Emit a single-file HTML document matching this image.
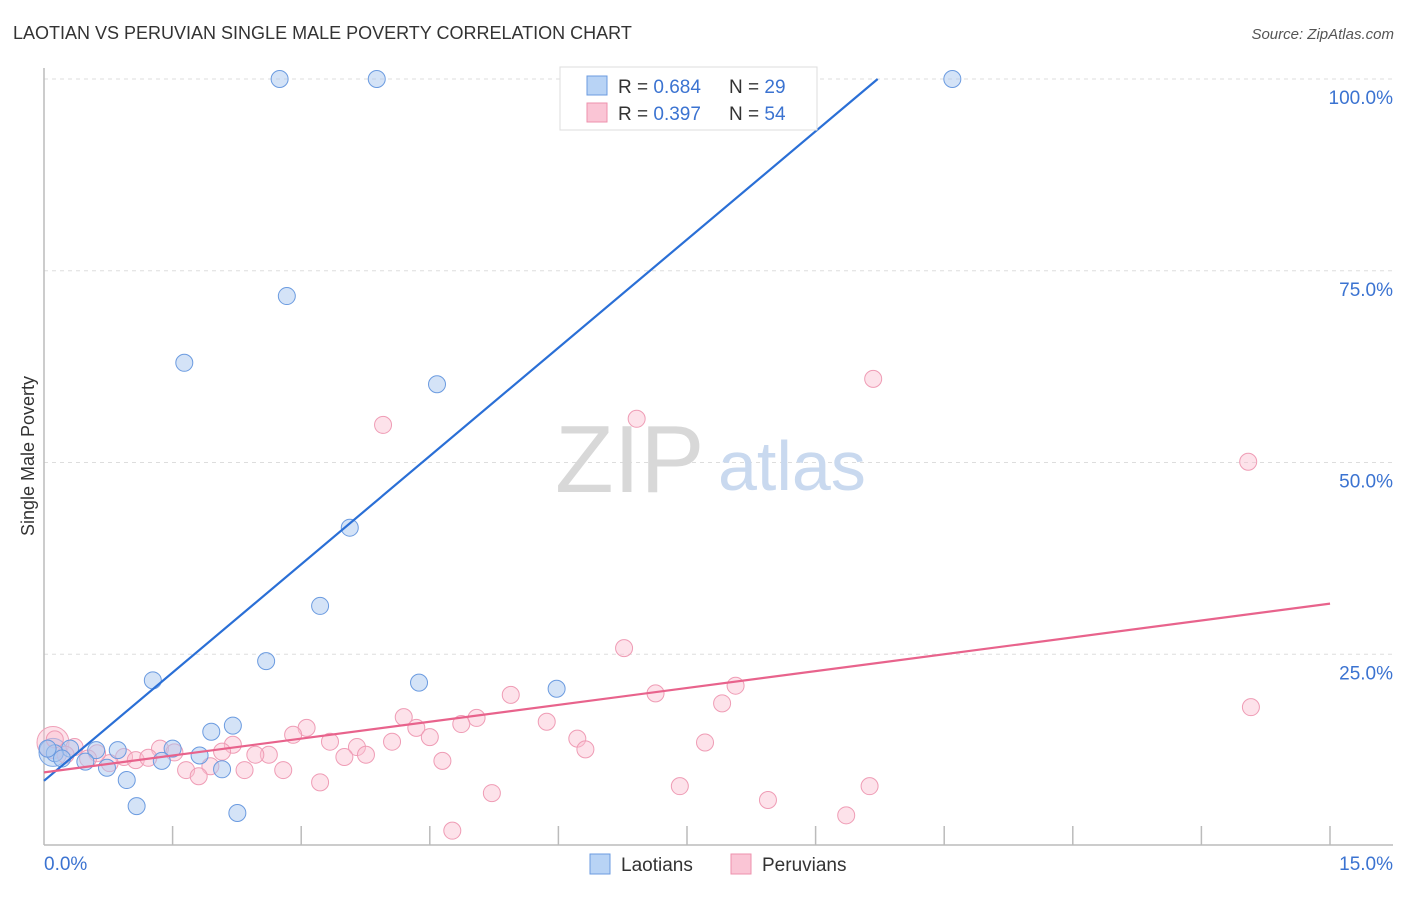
<!DOCTYPE html>
<html><head><meta charset="utf-8"><style>
body{margin:0;background:#fff;font-family:"Liberation Sans",sans-serif;}
svg text{font-family:"Liberation Sans",sans-serif;}
</style></head><body>
<svg width="1406" height="892" viewBox="0 0 1406 892" xmlns="http://www.w3.org/2000/svg">
<text x="13" y="39" font-size="18" fill="#333">LAOTIAN VS PERUVIAN SINGLE MALE POVERTY CORRELATION CHART</text>
<text x="1394" y="39" font-size="15" fill="#555" text-anchor="end" font-style="italic">Source: ZipAtlas.com</text>
<g id="grid"></g>
<text x="555" y="492" font-size="96" fill="#d8d8d8" font-family="Liberation Serif">ZIP</text>
<text x="718" y="490" font-size="70" fill="#c9d9ef">atlas</text>
<g id="axes"></g>
<g id="marks"></g>
<text transform="translate(34,456) rotate(-90)" font-size="18" fill="#333" text-anchor="middle">Single Male Poverty</text>
<g>
<rect x="560" y="67" width="257" height="63" fill="#fff" stroke="#ddd"/>
<rect x="587" y="76" width="20" height="19" fill="#b8d3f5" stroke="#6b9be0"/>
<rect x="587" y="103" width="20" height="19" fill="#fac5d5" stroke="#ee91ad"/>
<text x="618" y="93" font-size="19" fill="#333">R = <tspan fill="#3b73d1">0.684</tspan></text>
<text x="729" y="93" font-size="19" fill="#333">N = <tspan fill="#3b73d1">29</tspan></text>
<text x="618" y="120" font-size="19" fill="#333">R = <tspan fill="#3b73d1">0.397</tspan></text>
<text x="729" y="120" font-size="19" fill="#333">N = <tspan fill="#3b73d1">54</tspan></text>
</g>
<g>
<rect x="590" y="854" width="20" height="20" fill="#b8d3f5" stroke="#6b9be0"/>
<text x="621" y="871" font-size="19" fill="#333">Laotians</text>
<rect x="731" y="854" width="20" height="20" fill="#fac5d5" stroke="#ee91ad"/>
<text x="762" y="871" font-size="19" fill="#333">Peruvians</text>
</g>
</svg>
<script>
const yTicks=[25,50,75,100];
const yTickLabels=["25.0%","50.0%","75.0%","100.0%"];
const xTickLabels=["0.0%","15.0%"];
const laotianX=[2.62,3.70,10.10,2.70,1.56,4.37,3.40,3.07,2.47,1.21,4.17,5.70,2.10,1.86,0.82,1.43,0.58,0.29,0.12,0.20,0.46,0.70,1.31,1.73,1.98,0.92,1.03,2.15,0.04];
const laotianY=[100,100,100,71.7,63.0,60.2,41.5,31.3,24.1,21.6,21.3,20.5,15.7,14.9,12.5,12.7,12.5,12.7,12.1,11.4,11.0,10.2,11.1,11.8,10.0,8.6,5.2,4.3,12.7];
const peruvianX=[3.77,6.59,9.22,13.39,6.45,13.42,7.69,6.80,7.54,5.19,4.81,4.00,4.64,5.59,4.14,4.29,2.92,2.77,3.18,3.48,3.87,5.93,6.02,7.35,3.58,3.34,4.43,2.50,2.35,2.10,1.98,1.29,1.45,0.89,1.02,1.16,0.73,0.59,1.58,1.85,2.23,2.66,1.72,3.07,4.98,7.07,8.05,9.18,8.92,4.54,0.34,0.12,0.24,0.49];
const peruvianY=[54.9,55.7,60.9,50.1,25.8,18.1,20.9,19.9,18.6,19.7,16.7,16.8,15.9,16.2,15.4,14.2,15.4,14.5,13.6,12.9,13.6,14.0,12.6,13.5,11.9,11.6,11.1,11.9,11.9,13.2,12.3,12.7,12.2,11.6,11.2,11.5,10.8,12.1,9.9,10.4,9.9,9.9,9.1,8.3,6.9,7.8,6.0,7.8,4.0,2.0,12.9,13.9,11.9,11.4];
const laoTrend=[[0,8.5],[9.27,100]];
const peruTrend=[[0,9.6],[14.3,31.6]];
const X0=44,X1=1393,Y0=846,Y1=79;
function sx(v){return X0+(X1-X0)*v/15;}
function sy(v){return Y0+(Y1-Y0)*v/100;}
const NS="http://www.w3.org/2000/svg";
function mk(tag,attrs,parent){const e=document.createElementNS(NS,tag);for(const k in attrs)e.setAttribute(k,attrs[k]);parent.appendChild(e);return e;}
const grid=document.getElementById('grid'),axes=document.getElementById('axes'),marks=document.getElementById('marks');
yTicks.forEach((t,i)=>{
 const l=mk('line',{x1:X0,x2:X1,y1:sy(t),y2:sy(t),stroke:'#ddd','stroke-dasharray':'4,4'},grid);
 
 
 const tx=mk('text',{x:1393,y:sy(t)+25,'font-size':19,fill:'#3b73d1','text-anchor':'end'},axes);
 tx.textContent=yTickLabels[i];
 
 
});
const al=mk('line',{x1:X0,x2:X1,y1:845,y2:845,stroke:'#bbb','stroke-width':1.5},axes);


const yl=mk('line',{x1:X0,x2:X0,y1:68,y2:845,stroke:'#bbb','stroke-width':1.5},axes);


for(let i=1;i<=10;i++){const x=X0+i*128.6;
 const t=mk('line',{x1:x,x2:x,y1:826,y2:845,stroke:'#bbb','stroke-width':1.5},axes);
 
 }
const xl0=mk('text',{x:44,y:870,'font-size':19,fill:'#3b73d1'},axes);xl0.textContent=xTickLabels[0];


const xl1=mk('text',{x:1393,y:870,'font-size':19,fill:'#3b73d1','text-anchor':'end'},axes);xl1.textContent=xTickLabels[1];


const bp=mk('circle',{cx:sx(0.1),cy:sy(13.5),r:16,fill:'rgba(250,190,208,0.45)',stroke:'#f0a0b8'},marks);


const bl=mk('circle',{cx:sx(0.1),cy:sy(12.2),r:14,fill:'rgba(170,200,240,0.5)',stroke:'#7aa5e3'},marks);


peruvianX.forEach((v,i)=>{const c=mk('circle',{cx:sx(v),cy:sy(peruvianY[i]),r:8.5,fill:'rgba(250,190,208,0.45)',stroke:'#ef9cb5','stroke-width':1},marks);
 
 });
laotianX.forEach((v,i)=>{const c=mk('circle',{cx:sx(v),cy:sy(laotianY[i]),r:8.5,fill:'rgba(170,200,240,0.5)',stroke:'#6b9be0','stroke-width':1},marks);
 
 });
const t1=mk('line',{x1:sx(laoTrend[0][0]),y1:sy(laoTrend[0][1]),x2:sx(laoTrend[1][0]),y2:sy(laoTrend[1][1]),stroke:'#2a6fd6','stroke-width':2.2},marks);


const t2=mk('line',{x1:sx(peruTrend[0][0]),y1:sy(peruTrend[0][1]),x2:sx(peruTrend[1][0]),y2:sy(peruTrend[1][1]),stroke:'#e8638c','stroke-width':2.2},marks);


</script>
</body></html>
